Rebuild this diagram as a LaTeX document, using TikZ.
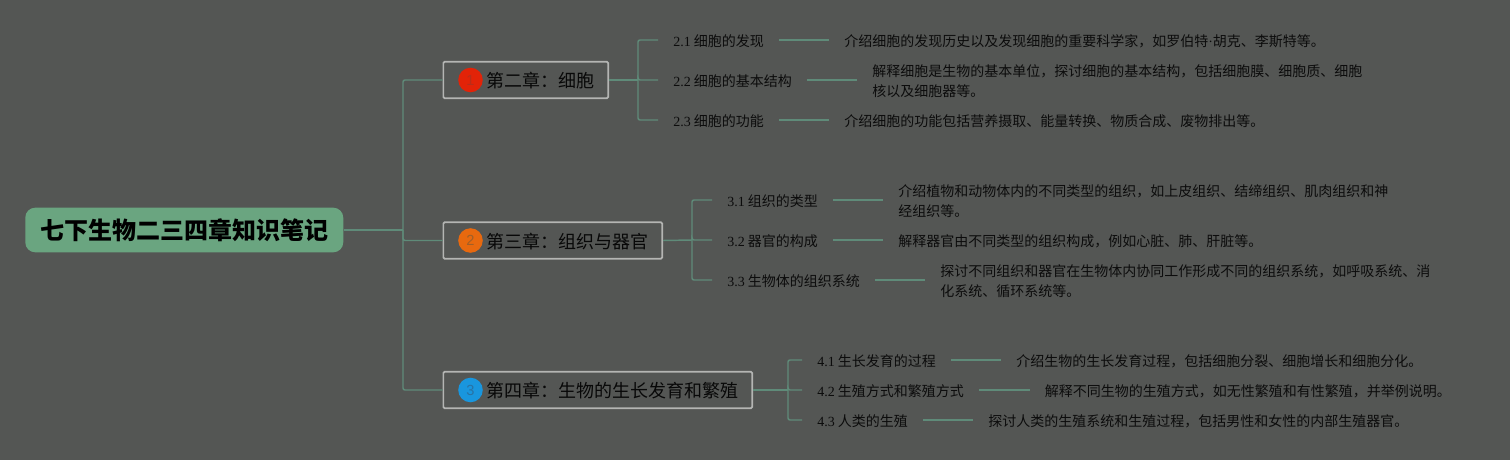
\documentclass[tikz,border=0pt]{standalone}
\usepackage{fontspec}
\setmainfont{Liberation Serif}
\newfontfamily\cjk{Noto Sans CJK SC}
\newfontfamily\badgefont{Liberation Sans}
\definecolor{bgc}{HTML}{545654}
\definecolor{linec}{HTML}{5F8B79}
\definecolor{rootc}{HTML}{6AA580}
\definecolor{boxc}{HTML}{B4B5B3}
\definecolor{inkc}{HTML}{080808}
\definecolor{leafc}{HTML}{0C0C0C}
\tikzset{
  up/.style={yshift=.75pt},
  conn/.style={draw=linec,line width=1.1pt,rounded corners=1.5pt},
  rootbox/.style={fill=rootc,rounded corners=7.5pt,minimum width=238.5pt,minimum height=33.5pt,inner sep=0pt,font=\cjk\bfseries\fontsize{18}{18}\selectfont,text=black,anchor=west},
  chapbox/.style={draw=boxc,line width=1.3pt,rounded corners=1pt,fill=bgc,minimum height=27.5pt,inner xsep=0pt,inner ysep=0pt,text height=12.8pt,text depth=1pt,font=\cjk\fontsize{13.5}{16}\selectfont,text=inkc,anchor=west},
  badge/.style={circle,minimum size=18.4pt,inner sep=0pt,font=\badgefont\fontsize{11}{11}\selectfont},
  leafnode/.style={inner xsep=11.25pt,inner ysep=1pt,font=\cjk\fontsize{10.5}{15}\selectfont,text=leafc,anchor=west},
  descnode/.style={inner xsep=11.25pt,inner ysep=1pt,font=\cjk\fontsize{10.5}{15}\selectfont,text=leafc,anchor=west,align=left}
}
\newcommand{\chaptxt}[1]{\hspace*{32pt}#1\hspace*{10.6pt}}
\newcommand{\numtxt}[1]{{\rmfamily #1} }
\begin{document}
\begin{tikzpicture}[x=.75pt,y=-.75pt]
\useasboundingbox[fill=bgc] (0,0) rectangle (1510,460);
% root and chapters
\node[rootbox] (root) at (25,230) {七下生物二三四章知识笔记};
\node[chapbox] (c2) at (442.5,80) {\chaptxt{第二章：细胞}};
\node[chapbox] (c3) at (442.5,240.5) {\chaptxt{第三章：组织与器官}};
\node[chapbox] (c4) at (442.5,390) {\chaptxt{第四章：生物的生长发育和繁殖}};
\node[badge,fill={rgb,255:red,226;green,35;blue,8},text={rgb,255:red,185;green,45;blue,25}] (b2) at (470.5,80) {1};
\node[badge,fill={rgb,255:red,232;green,105;blue,15},text={rgb,255:red,160;green,95;blue,40}] (b3) at (470.5,240.5) {2};
\node[badge,fill={rgb,255:red,25;green,150;blue,222},text={rgb,255:red,40;green,115;blue,165}] (b4) at (470.5,390) {3};
\coordinate (trunk) at (403,230);
\draw[conn] (root.east) -- (trunk);
\draw[conn] (trunk) |- (c2.west);
\draw[conn] (trunk) |- (c3.west);
\draw[conn] (trunk) |- (c4.west);
% chapter 2
\node[leafnode] (l21) at (658,41) {\numtxt{2.1}细胞的发现};
\node[leafnode] (l22) at (658,81) {\numtxt{2.2}细胞的基本结构};
\node[leafnode] (l23) at (658,121) {\numtxt{2.3}细胞的功能};
\node[descnode] (d21) at (829,41) {介绍细胞的发现历史以及发现细胞的重要科学家，如罗伯特{\rmfamily ·}胡克、李斯特等。};
\node[descnode] (d22) at (857,81) {解释细胞是生物的基本单位，探讨细胞的基本结构，包括细胞膜、细胞质、细胞\\核以及细胞器等。};
\node[descnode] (d23) at (829,121) {介绍细胞的功能包括营养摄取、能量转换、物质合成、废物排出等。};
\coordinate (j2) at (638,80);
\draw[conn] (c2.east) -- (j2);
\foreach \a in {l21,l22,l23}{\draw[conn] (j2) |- ([up]\a.west);}
\draw[conn] ([up]l21.east) -- ([up]d21.west);
\draw[conn] ([up]l22.east) -- ([up]d22.west);
\draw[conn] ([up]l23.east) -- ([up]d23.west);
% chapter 3
\node[leafnode] (l31) at (712,201) {\numtxt{3.1}组织的类型};
\node[leafnode] (l32) at (712,241) {\numtxt{3.2}器官的构成};
\node[leafnode] (l33) at (712,281) {\numtxt{3.3}生物体的组织系统};
\node[descnode] (d31) at (883,201) {介绍植物和动物体内的不同类型的组织，如上皮组织、结缔组织、肌肉组织和神\\经组织等。};
\node[descnode] (d32) at (883,241) {解释器官由不同类型的组织构成，例如心脏、肺、肝脏等。};
\node[descnode] (d33) at (925,281) {探讨不同组织和器官在生物体内协同工作形成不同的组织系统，如呼吸系统、消\\化系统、循环系统等。};
\coordinate (j3) at (692,240);
\draw[conn] (c3.east) -- (j3);
\foreach \a in {l31,l32,l33}{\draw[conn] (j3) |- ([up]\a.west);}
\draw[conn] ([up]l31.east) -- ([up]d31.west);
\draw[conn] ([up]l32.east) -- ([up]d32.west);
\draw[conn] ([up]l33.east) -- ([up]d33.west);
% chapter 4
\node[leafnode] (l41) at (802,361) {\numtxt{4.1}生长发育的过程};
\node[leafnode] (l42) at (802,391) {\numtxt{4.2}生殖方式和繁殖方式};
\node[leafnode] (l43) at (802,421) {\numtxt{4.3}人类的生殖};
\node[descnode] (d41) at (1001,361) {介绍生物的生长发育过程，包括细胞分裂、细胞增长和细胞分化。};
\node[descnode] (d42) at (1029.5,391) {解释不同生物的生殖方式，如无性繁殖和有性繁殖，并举例说明。};
\node[descnode] (d43) at (973,421) {探讨人类的生殖系统和生殖过程，包括男性和女性的内部生殖器官。};
\coordinate (j4) at (788,390);
\draw[conn] (c4.east) -- (j4);
\foreach \a in {l41,l42,l43}{\draw[conn] (j4) |- ([up]\a.west);}
\draw[conn] ([up]l41.east) -- ([up]d41.west);
\draw[conn] ([up]l42.east) -- ([up]d42.west);
\draw[conn] ([up]l43.east) -- ([up]d43.west);
\end{tikzpicture}
\end{document}
